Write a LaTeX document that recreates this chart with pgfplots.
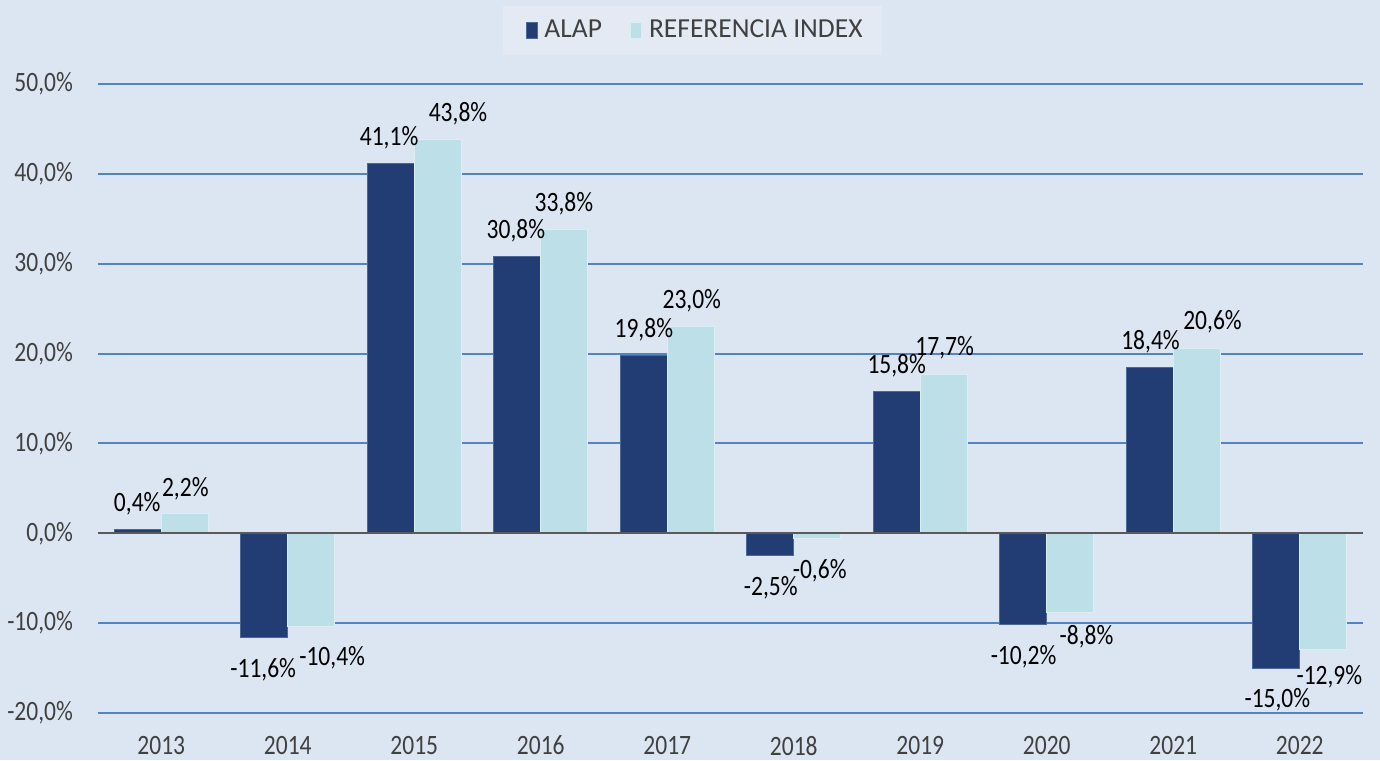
\documentclass[border=0pt]{standalone}
\usepackage{pgfplots}
\pgfplotsset{compat=1.18}
\usepackage{pgfplotstable}
\usepackage{fontspec}
\setmainfont{Carlito}
\newfontfamily\numfont[FakeStretch=0.84]{Carlito}
\definecolor{bgc}{HTML}{DCE6F2}
\definecolor{legbg}{HTML}{E3EAF3}
\definecolor{alap}{HTML}{213D74}
\definecolor{alapedge}{HTML}{4A6796}
\definecolor{refc}{HTML}{BCDFE8}
\definecolor{refedge}{HTML}{D9EFF4}
\definecolor{gridc}{HTML}{5283C2}
\definecolor{zeroc}{HTML}{5A5A5A}
\definecolor{txt}{HTML}{404040}

\pgfplotstableread{
x y
0 0.4
1 -11.6
2 41.1
3 30.8
4 19.8
5 -2.5
6 15.8
7 -10.2
8 18.4
9 -15.0
}\alapdata
\pgfplotstableread{
x y
0 2.2
1 -10.4
2 43.8
3 33.8
4 23.0
5 -0.6
6 17.7
7 -8.8
8 20.6
9 -12.9
}\refdata
% label positions (x in category units, y in %) and values
\pgfplotstableread{
lx ly v
-0.190 3.34 0.4
0.806 -15.14 -11.6
1.801 43.99 41.1
2.804 33.63 30.8
3.815 22.61 19.8
4.818 -6.01 -2.5
5.814 18.60 15.8
6.817 -13.70 -10.2
7.820 21.27 18.4
8.823 -18.49 -15.0
}\alaplab
\pgfplotstableread{
lx ly v
0.190 5.01 2.2
1.351 -13.81 -10.4
2.346 46.66 43.8
3.183 36.64 33.8
4.194 25.84 23.0
5.205 -4.12 -0.6
6.193 20.60 17.7
7.314 -11.47 -8.8
8.310 23.50 20.6
9.234 -15.92 -12.9
}\reflab

\begin{document}
\begin{tikzpicture}
\path[use as bounding box, fill=bgc] (-49pt,-23.5pt) rectangle (641pt,356.5pt);
\begin{axis}[
  scale only axis,
  width=632.5pt, height=314.5pt,
  xmin=-0.5, xmax=9.5,
  ymin=-20, ymax=50,
  clip=false,
  axis line style={draw=none},
  tick style={draw=none},
  xtick={0,1,...,9},
  xticklabels={2013,2014,2015,2016,2017,2018,2019,2020,2021,2022},
  ytick={-20,-10,0,10,20,30,40,50},
  ymajorgrids,
  major grid style={draw=gridc, line width=1pt},
  /pgf/number format/assume math mode=true,
  /pgf/number format/.cd, fixed, fixed zerofill, precision=1, use comma,
  /pgfplots/.cd,
  yticklabel={\pgfmathprintnumber{\tick}\%},
  yticklabel style={font=\numfont\fontsize{14}{16}\selectfont, text=txt, xshift=-9pt},
  xticklabel style={font=\numfont\fontsize{14}{16}\selectfont, text=txt, yshift=-8pt},
  legend columns=2,
  legend style={
    at={(0.4696,1.085)}, anchor=center,
    draw=none, fill=legbg,
    font=\fontsize{13.75}{16}\selectfont, text=txt,
    inner xsep=7.5pt, inner ysep=5pt,
    /tikz/every odd column/.append style={column sep=1.5pt},
    /tikz/every even column/.append style={column sep=8pt},
  },
  legend cell align=left,
]
\addplot[ybar, bar width=0.372, bar shift=-0.186, fill=alap, draw=alapedge, line width=0.5pt,
  legend image code/.code={\path (0pt,0pt); \fill[alap, draw=alapedge, line width=0.4pt] (4pt,-3.8pt) rectangle (9.5pt,4pt);}]
  table[x=x,y=y] {\alapdata};
\addlegendentry{ALAP}
\addplot[ybar, bar width=0.372, bar shift=0.186, fill=refc, draw=refedge, line width=0.6pt,
  legend image code/.code={\path (0pt,0pt); \fill[refc, draw=refedge, line width=0.4pt] (4pt,-3.8pt) rectangle (9.5pt,4pt);}]
  table[x=x,y=y] {\refdata};
\addlegendentry{REFERENCIA INDEX}
\draw[zeroc, line width=1pt] (axis cs:-0.5,0) -- (axis cs:9.5,0);
\addplot[only marks, mark=*, mark size=0pt, forget plot,
  point meta=explicit,
  nodes near coords={\pgfmathprintnumber[fixed, fixed zerofill, precision=1, use comma, assume math mode=true]{\pgfplotspointmeta}\%},
  every node near coord/.append style={anchor=center, inner sep=0pt, text=black, font=\numfont\fontsize{14}{16}\selectfont}]
  table[x=lx, y=ly, meta=v] {\alaplab};
\addplot[only marks, mark=*, mark size=0pt, forget plot,
  point meta=explicit,
  nodes near coords={\pgfmathprintnumber[fixed, fixed zerofill, precision=1, use comma, assume math mode=true]{\pgfplotspointmeta}\%},
  every node near coord/.append style={anchor=center, inner sep=0pt, text=black, font=\numfont\fontsize{14}{16}\selectfont}]
  table[x=lx, y=ly, meta=v] {\reflab};
\end{axis}
\end{tikzpicture}
\end{document}
